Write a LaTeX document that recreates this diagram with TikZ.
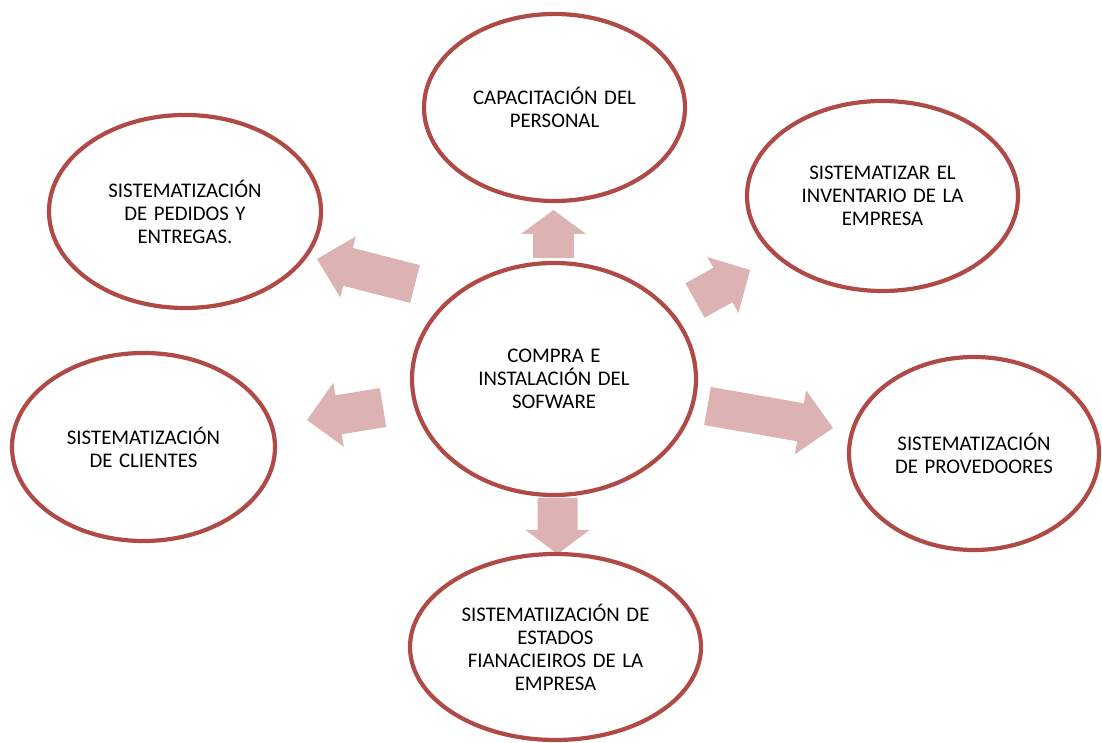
\documentclass[tikz,border=0pt]{standalone}
\usepackage{fontspec}
\setmainfont{Carlito}[WordSpace={1.4,0.2,0.2}]
\usetikzlibrary{shapes.geometric,calc}
\definecolor{ering}{RGB}{176,74,70}
\definecolor{afill}{RGB}{221,178,178}
% #1 tail coordinate, #2 tip coordinate, #3 half shaft width, #4 half head width, #5 head length
\newcommand\blockarrow[5]{%
  \coordinate (#1-b) at ($(#2)!#5!(#1)$);
  \fill[arrowbody] ($(#1)!#3!90:(#2)$) -- ($(#1-b)!#3!90:(#2)$) -- ($(#1-b)!#4!90:(#2)$)
    -- (#2) -- ($(#1-b)!#4!-90:(#2)$) -- ($(#1-b)!#3!-90:(#2)$) -- ($(#1)!#3!-90:(#2)$) -- cycle;}
\begin{document}
\begin{tikzpicture}[x=1pt,y=1pt,
  bubble/.style={ellipse, draw=ering, line width=4.2pt, fill=white, inner sep=0pt,
    align=center, font=\fontsize{20.8}{23}\selectfont},
  arrowbody/.style={fill=afill}]
\useasboundingbox (0,0) rectangle (1102,743);
% arrow end points
\coordinate (upT) at (553.5,485);   \coordinate (upH) at (553.5,533);
\coordinate (dnT) at (557.5,245);   \coordinate (dnH) at (557.5,189);
\coordinate (ulT) at (415,459);     \coordinate (ulH) at (317,484);
\coordinate (lfT) at (383,335.5);   \coordinate (lfH) at (307,323);
\coordinate (urT) at (695,442.5);   \coordinate (urH) at (750,473);
\coordinate (rtT) at (707.5,337);   \coordinate (rtH) at (833,315);
\blockarrow{upT}{upH}{20.5pt}{32.5pt}{24pt}
\blockarrow{dnT}{dnH}{20pt}{32pt}{24pt}
\blockarrow{ulT}{ulH}{19.5pt}{31.5pt}{32pt}
\blockarrow{lfT}{lfH}{19.7pt}{32.4pt}{32pt}
\blockarrow{urT}{urH}{19.7pt}{32pt}{31pt}
\blockarrow{rtT}{rtH}{19.3pt}{32.5pt}{33pt}
% ellipses
\node[bubble, minimum width=284pt, minimum height=232pt] (center) at (554,364)
  {COMPRA E\\INSTALACIÓN DEL\\SOFWARE};
\node[bubble, minimum width=261pt, minimum height=187pt] (top) at (554.5,635.5)
  {CAPACITACIÓN DEL\\PERSONAL};
\node[bubble, minimum width=272pt, minimum height=193pt] (topleft) at (185,531.5)
  {SISTEMATIZACIÓN\\DE PEDIDOS Y\\ENTREGAS.};
\node[bubble, minimum width=271pt, minimum height=190pt] (topright) at (882.5,547)
  {SISTEMATIZAR EL\\INVENTARIO DE LA\\EMPRESA};
\node[bubble, minimum width=263pt, minimum height=188pt] (left) at (143.5,296)
  {SISTEMATIZACIÓN\\DE CLIENTES};
\node[bubble, minimum width=250pt, minimum height=193pt] (right) at (974,289.5)
  {SISTEMATIZACIÓN\\DE PROVEDOORES};
\node[bubble, minimum width=291pt, minimum height=186pt] (bottom) at (555.5,96)
  {SISTEMATIIZACIÓN DE\\ESTADOS\\FIANACIEIROS DE LA\\EMPRESA};
\end{tikzpicture}
\end{document}
